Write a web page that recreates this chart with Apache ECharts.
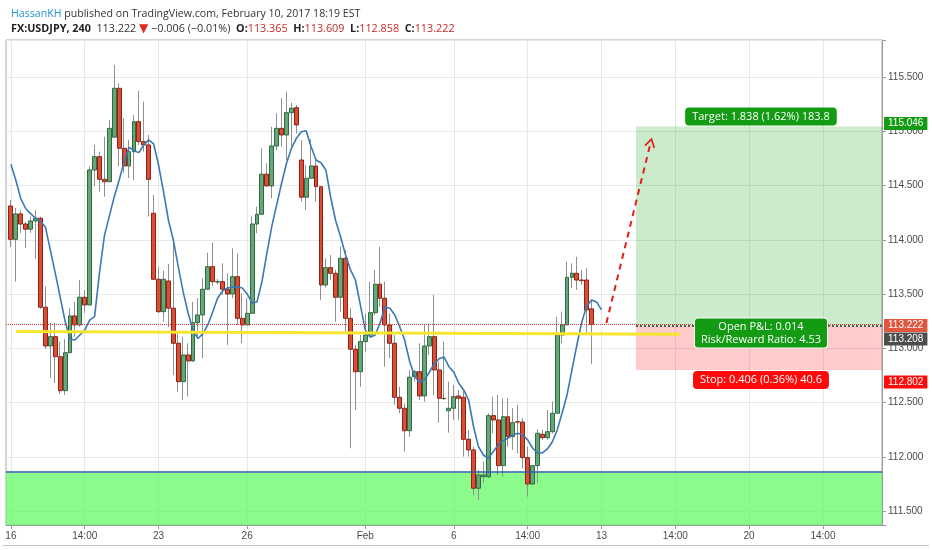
<!DOCTYPE html>
<html><head><meta charset="utf-8">
<script src="https://cdn.jsdelivr.net/npm/echarts@6/dist/echarts.min.js"></script>
<style>html,body{margin:0;padding:0;background:#fff;}#c{width:932px;height:550px;}</style>
</head><body><div id="c"></div>
<script>
// ---- data (USDJPY 240 bars) ----
const opens = [114.313,114.006,114.240,114.147,114.099,114.175,114.200,113.380,113.023,113.109,
112.924,112.611,112.961,113.300,113.217,113.472,113.401,114.645,114.768,114.559,
114.537,114.947,115.398,114.845,114.682,114.814,115.090,114.906,114.876,114.246,
113.638,113.339,113.622,113.371,113.048,112.694,112.940,112.885,113.238,113.309,
113.546,113.754,113.612,113.616,113.546,113.502,113.662,113.278,113.217,113.324,
114.147,114.237,114.606,114.498,114.866,115.029,114.968,115.173,115.219,114.737,
114.394,114.569,114.682,114.491,113.585,113.745,113.693,113.472,113.831,113.278,
112.993,112.786,113.063,113.124,113.330,113.592,113.463,113.217,113.048,112.550,
112.449,112.242,112.740,112.786,112.562,113.023,113.109,112.802,112.541,112.427,
112.449,112.562,112.550,112.163,112.065,111.712,111.818,111.818,112.381,112.341,
111.920,112.371,112.187,112.325,112.322,111.994,111.751,111.920,112.209,112.178,
112.233,112.403,113.124,113.217,113.656,113.693,113.631,113.631,113.365];
const closes = [114.006,114.240,114.147,114.099,114.175,114.200,113.380,113.023,113.109,112.924,
112.611,112.961,113.300,113.217,113.472,113.401,114.645,114.768,114.559,114.537,
115.029,115.398,114.845,114.682,114.814,115.090,114.906,114.876,114.559,113.638,
113.339,113.638,113.371,113.048,112.694,112.940,112.885,113.238,113.309,113.546,
113.754,113.616,113.616,113.546,113.502,113.662,113.278,113.217,113.324,114.147,
114.237,114.606,114.498,114.866,115.029,114.968,115.173,115.214,115.060,114.394,
114.569,114.682,114.491,113.585,113.745,113.693,113.472,113.831,113.278,112.993,
112.786,113.063,113.124,113.330,113.592,113.463,113.217,113.048,112.550,112.449,
112.242,112.735,112.786,112.562,113.023,113.109,112.802,112.541,112.538,112.449,
112.556,112.541,112.163,112.065,111.712,111.834,111.834,112.381,112.341,111.920,
112.371,112.187,112.316,112.322,111.994,111.751,111.920,112.218,112.178,112.233,
112.403,113.124,113.217,113.656,113.693,113.631,113.625,113.355,113.222];
const highs = [114.369,114.295,114.276,114.166,114.215,114.276,114.215,113.570,113.235,113.235,
113.063,113.088,113.373,113.431,113.631,113.539,114.676,114.876,114.814,114.952,
115.106,115.613,115.444,115.122,114.922,115.152,115.376,115.275,114.968,114.415,
113.754,113.717,113.779,113.970,113.140,113.109,113.048,113.431,113.463,113.647,
113.883,113.975,113.640,113.785,113.693,113.924,113.877,113.509,113.463,114.215,
114.307,114.845,114.707,115.044,115.168,115.306,115.367,115.265,115.244,114.922,
114.691,114.928,114.753,114.491,113.831,113.862,113.724,113.938,113.908,113.371,
113.032,113.124,113.324,113.616,113.724,113.938,113.616,113.324,113.124,112.648,
112.490,112.802,112.802,113.048,113.217,113.232,113.493,112.878,113.063,112.694,
112.664,112.618,112.618,112.249,112.095,111.880,111.957,112.403,112.556,112.571,
112.541,112.541,112.449,112.479,112.357,112.095,111.926,112.255,112.249,112.433,
112.510,113.293,113.339,113.800,113.785,113.846,113.724,113.739,113.447];
const lows = [113.935,113.616,114.065,113.926,114.065,113.825,113.364,112.995,112.728,112.682,
112.581,112.571,112.956,113.109,113.201,113.327,113.401,114.498,114.445,114.399,
114.537,114.947,114.676,114.615,114.571,114.553,114.876,114.814,114.215,113.638,
113.327,113.247,113.198,112.756,112.602,112.525,112.556,112.878,113.109,112.910,
113.570,113.576,113.590,113.493,113.032,113.463,113.217,113.048,113.217,113.324,
114.062,114.237,114.491,114.384,114.829,114.860,114.737,114.860,114.983,114.353,
114.276,114.569,114.353,113.447,113.560,113.631,113.247,113.339,113.155,112.080,
112.433,112.648,112.971,113.109,113.309,113.385,112.832,112.910,112.479,112.403,
112.049,112.187,112.694,112.525,112.510,112.940,112.571,112.316,112.525,112.224,
112.341,112.341,112.003,112.003,111.650,111.604,111.758,111.804,112.218,111.834,
111.818,112.095,112.065,112.034,111.896,111.634,111.742,111.758,112.157,112.157,
112.218,112.403,113.048,113.217,113.555,113.539,113.585,113.140,112.858];
const maValues = [114.698,114.550,114.381,114.290,114.243,114.200,114.170,114.120,113.908,113.696,
113.475,113.253,113.087,113.078,113.124,113.169,113.262,113.293,113.700,114.040,
114.220,114.399,114.553,114.722,114.854,114.823,114.805,114.876,114.922,114.885,
114.691,114.445,114.184,114.000,113.754,113.521,113.327,113.171,113.092,113.134,
113.217,113.336,113.465,113.530,113.558,113.567,113.570,113.558,113.503,113.420,
113.429,113.613,113.877,114.123,114.323,114.523,114.707,114.845,114.937,114.998,
115.007,114.860,114.737,114.712,114.645,114.387,114.175,114.028,113.862,113.724,
113.631,113.401,113.171,113.103,113.124,113.232,113.385,113.371,113.309,113.201,
113.078,112.885,112.747,112.687,112.710,112.779,112.857,112.905,112.922,112.832,
112.782,112.679,112.618,112.525,112.279,112.095,112.018,111.988,112.049,112.111,
112.150,112.172,112.203,112.218,112.203,112.157,112.083,112.037,112.037,112.074,
112.138,112.249,112.406,112.571,112.802,113.032,113.244,113.392,113.447,113.429,113.355];
const tickBars = [0,15,30,48,72,90,105,120,135,150,165];
const tickTexts = ['16','14:00','23','26','Feb','6','14:00','13','14:00','20','14:00'];
const lastPrice = 113.222;
const supportTop = 111.855;
const trendLine = [[1,113.157],[136,113.130]];      // [bar, price]
const projection = [[121,113.235],[130,114.900]];   // [bar, price]
const position = {entry:113.208, target:115.046, stop:112.802, fromBar:127};
const targetText = 'Target: 1.838 (1.62%) 183.8';
const pnlText = 'Open P&L: 0.014\nRisk/Reward Ratio: 4.53';
const stopText = 'Stop: 0.406 (0.36%) 40.6';
const yMin = 111.373, yMax = 115.843;

// ---- build ----
const SLOTS = 179;                 // slot k = bar k-1
const categories = Array.from({length:SLOTS},(_,k)=>'s'+k);
const tickAt = k => tickBars.indexOf(k-1);
const wickData = opens.map((o,i)=>[i+1,o,closes[i],lows[i],highs[i]]);
const bodyData = opens.map((o,i)=>[i+1,o,closes[i],Math.min(o,closes[i]),Math.max(o,closes[i])]);
const maData = maValues.map((v,i)=>[i+1,v]);
const lastSlot = SLOTS-1;
const FONT = "'Liberation Sans', Arial, sans-serif";
const HFONT = "'Open Sans', sans-serif";
const chevron = 'path://M0,10 L6,0 L12,10 L10.4,11 L6,3.6 L1.6,11 Z';

const chart = echarts.init(document.getElementById('c'), null, {renderer:'canvas'});
const option = {
  animation:false,
  backgroundColor:'#ffffff',
  title:[
    {left:6, top:3, text:'{n|HassanKH} published on TradingView.com, February 10, 2017 18:19 EST',
     textStyle:{fontFamily:HFONT, fontSize:10.6, fontWeight:'normal', color:'#333',
       rich:{n:{fontFamily:HFONT, fontSize:10.6, color:'#2196d3'}}}},
    {left:6, top:18, text:'{b|FX:USDJPY, 240}  113.222 {r|▼} −0.006 (−0.01%)  {b|O:}{v|113.365}  {b|H:}{v|113.609}  {b|L:}{v|112.858}  {b|C:}{v|113.222}',
     textStyle:{fontFamily:HFONT, fontSize:10.8, fontWeight:'normal', color:'#333',
       rich:{b:{fontFamily:HFONT, fontSize:10.8, fontWeight:'bold', color:'#222'},
             r:{fontFamily:'DejaVu Sans', fontSize:12, color:'#e0281f'},
             v:{fontFamily:HFONT, fontSize:10.8, color:'#c62828'}}}}
  ],
  grid:{left:6, right:50, top:40, bottom:25, show:true, borderColor:'#a8a8a8', borderWidth:1},
  xAxis:{type:'category', data:categories, boundaryGap:false,
    axisLine:{lineStyle:{color:'#9a9a9a'}},
    axisTick:{interval:(i)=>tickAt(i)>=0, length:4, lineStyle:{color:'#9a9a9a'}},
    axisLabel:{interval:(i)=>tickAt(i)>=0, formatter:(v,i)=>{const t=tickAt(i);return t>=0?tickTexts[t]:'';},
      color:'#4a4a4a', fontSize:10, fontFamily:FONT, margin:6},
    splitLine:{show:true, interval:(i)=>tickAt(i)>=0, lineStyle:{color:'#e8e8e8'}}},
  yAxis:{type:'value', position:'right', min:yMin, max:yMax, splitNumber:9, scale:true,
    axisLine:{show:true, lineStyle:{color:'#9a9a9a'}},
    axisTick:{show:true, length:4, lineStyle:{color:'#9a9a9a'}},
    axisLabel:{color:'#4a4a4a', fontSize:10, fontFamily:FONT, margin:6,
      formatter:v=>Math.abs(v*2-Math.round(v*2))<1e-6?v.toFixed(3):''},
    splitLine:{show:true, lineStyle:{color:'#e8e8e8'}}},
  series:[
    {type:'candlestick', name:'wick', data:wickData, encode:{x:0,y:[1,2,3,4]}, barWidth:1, z:2,
      itemStyle:{color:'#909090', color0:'#909090', borderColor:'#909090', borderColor0:'#909090', borderWidth:1}},
    {type:'candlestick', name:'body', data:bodyData, encode:{x:0,y:[1,2,3,4]}, barWidth:4.4, z:3,
      itemStyle:{color:'#66a77a', color0:'#dc4d36', borderColor:'#2e6b42', borderColor0:'#8c2314', borderWidth:1}},
    {type:'line', name:'MA', data:maData, symbol:'none', z:4, lineStyle:{color:'#3b78b4', width:1.6}},
    {type:'line', name:'overlay', data:[], z:6, silent:true,
      markArea:{silent:true, data:[
        [{yAxis:supportTop, itemStyle:{color:'rgba(100,250,100,0.75)'}},{yAxis:yMin}],
        [{coord:[position.fromBar+1, position.target], itemStyle:{color:'rgba(0,155,0,0.2)'}},{coord:[lastSlot, position.entry]}],
        [{coord:[position.fromBar+1, position.entry], itemStyle:{color:'rgba(255,0,0,0.2)'}},{coord:[lastSlot, position.stop]}]
      ]},
      markLine:{silent:true, symbol:['none','none'], label:{show:false}, data:[
        {yAxis:supportTop, lineStyle:{color:'#2b5fa6', width:1.5, type:'solid'}},
        {yAxis:lastPrice, lineStyle:{color:'#e53935', width:1, type:'dotted'}},
        [{coord:[trendLine[0][0]+1, trendLine[0][1]], lineStyle:{color:'#f5e52e', width:3, type:'solid'}},{coord:[trendLine[1][0]+1, trendLine[1][1]]}],
        [{coord:[position.fromBar+1, position.entry], lineStyle:{color:'#555', width:2, type:'dotted'}},{coord:[lastSlot, position.entry]}],
        [{coord:[projection[0][0]+1, projection[0][1]], symbol:'none', lineStyle:{color:'#e0201c', width:2, type:[6,5]}},
         {coord:[projection[1][0]+1, projection[1][1]], symbol:chevron, symbolSize:[11,10]}]
      ]}}
  ]
};
chart.setOption(option);

// ---- labels placed through the chart's own scales ----
const yPx = v => chart.convertToPixel({yAxisIndex:0}, v);
const xPx = k => chart.convertToPixel({xAxisIndex:0}, k);
const zx0 = xPx(position.fromBar+1), zx1 = xPx(lastSlot), zcx = (zx0+zx1)/2;
const axisX = zx1 + 2;
function box(text, x, y, bg, border){
  return {type:'text', z:100, style:{text:text, x:x, y:y, fill:'#fff',
    font:'11px '+HFONT, backgroundColor:bg, padding:[2,6,1,6], borderRadius:3,
    borderColor:border||bg, borderWidth:1,
    align:'center', verticalAlign:'middle', lineHeight:13}};
}
function axisBox(text, y, bg){
  return {type:'text', z:100, style:{text:text, x:axisX, y:y, fill:'#fff', font:'10px '+FONT,
    backgroundColor:bg, padding:[2,4,1,4], align:'left', verticalAlign:'middle'}};
}
chart.setOption({graphic:[
  box(targetText, zcx+2, yPx(position.target)-10, '#139c13'),
  box(pnlText, zcx+2, yPx(position.entry)+7, '#139c13', '#ffffff'),
  box(stopText, zcx+2, yPx(position.stop)+10, '#ff0a0a'),
  axisBox('115.046', yPx(position.target)-3, '#139c13'),
  axisBox('113.222', yPx(lastPrice)+1, '#e0553f'),
  axisBox('113.208', yPx(position.entry)+13, '#4d4d4d'),
  axisBox('112.802', yPx(position.stop)+12, '#ff0a0a'),
  {type:'line', z:100, shape:{x1:3, y1:545.5, x2:929, y2:545.5}, style:{stroke:'#c4c4c4', lineWidth:1}}
]});
</script></body></html>
